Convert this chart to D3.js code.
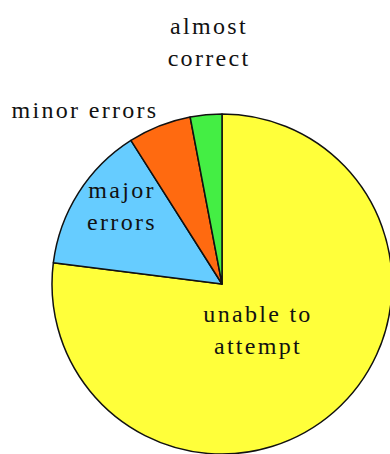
<!DOCTYPE html>
<html>
<head>
<meta charset="utf-8">
<script src="https://cdn.jsdelivr.net/npm/d3@7"></script>
<style>
  body { margin: 0; background: #fff; overflow: hidden; }
  text { font-family: "Liberation Serif", "DejaVu Serif", serif; font-size: 24px; letter-spacing: 2.3px; fill: #111; }
</style>
</head>
<body>
<div id="chart"></div>
<script>
var categories = ["unable to attempt", "major errors", "minor errors", "almost correct"];
var values = [77, 14, 6, 3];
var colors = ["#ffff3a", "#66ccff", "#ff6a10", "#44ee44"];
// label lines and where they sit
var labelLines = [["unable to", "attempt"], ["major", "errors"], ["minor errors"], ["almost", "correct"]];
var labelPos = [[258, 322], [122, 198], [85, 118], [209, 34]];

var width = 390, height = 454;
var cx = 222, cy = 284, r = 170;

var svg = d3.select('#chart').append('svg')
  .attr('width', width)
  .attr('height', height);

var pie = d3.pie().sort(null).value(function (d) { return d; });
var arc = d3.arc().innerRadius(0).outerRadius(r);

var g = svg.append('g').attr('transform', 'translate(' + cx + ',' + cy + ')');

g.selectAll('path').data(pie(values))
  .enter().append('path')
  .attr('d', arc)
  .attr('fill', function (d, i) { return colors[i]; })
  .attr('stroke', '#111')
  .attr('stroke-width', 1.5)
  .attr('stroke-linejoin', 'round');

// labels
categories.forEach(function (c, i) {
  var t = svg.append('text')
    .attr('text-anchor', 'middle')
    .attr('x', labelPos[i][0])
    .attr('y', labelPos[i][1]);
  labelLines[i].forEach(function (line, j) {
    t.append('tspan')
      .attr('x', labelPos[i][0])
      .attr('dy', j === 0 ? 0 : 32)
      .text(line);
  });
});
</script>
</body>
</html>
